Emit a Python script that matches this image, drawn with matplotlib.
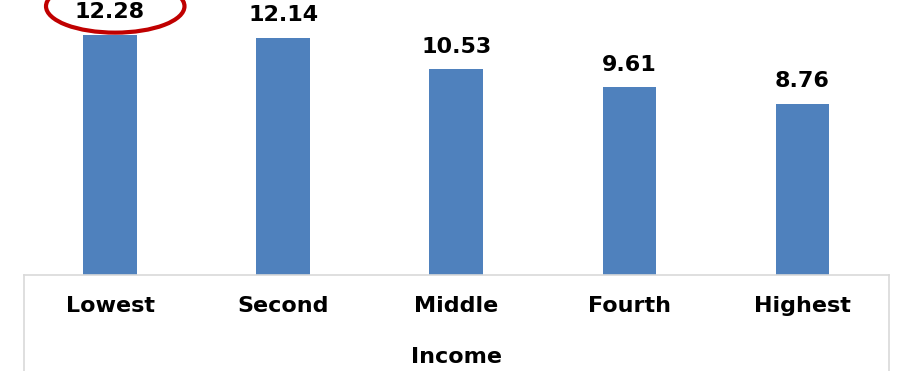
import matplotlib.pyplot as plt
from matplotlib.patches import Ellipse

categories = ["Lowest", "Second", "Middle", "Fourth", "Highest"]
values = [12.28, 12.14, 10.53, 9.61, 8.76]
x_title = "Income"

fig = plt.figure(figsize=(8.97, 3.71), dpi=100)
ax = fig.add_axes([23.5 / 897, 96 / 371, (889 - 23.5) / 897, 275 / 371])

x = range(len(categories))
ax.bar(x, values, width=0.31, color="#4F81BD", zorder=2)

for i, v in zip(x, values):
    ax.annotate(f"{v:.2f}", (i, v), xytext=(0, 12), textcoords="offset points",
                ha="center", va="baseline", fontsize=16, fontweight="bold",
                color="black")

ax.set_xlim(-0.5, len(categories) - 0.5)
ax.set_ylim(0, 14.07)
ax.set_yticks([])
ax.set_xticks(list(x))
ax.set_xticklabels(categories, fontsize=16, fontweight="bold")
ax.tick_params(axis="x", length=0, pad=15)

for s in ["top", "left", "right"]:
    ax.spines[s].set_visible(False)
ax.spines["bottom"].set_color("#D9D9D9")
ax.spines["bottom"].set_linewidth(1.2)

# side borders of the category table under the axis
for xv in (-0.5, len(categories) - 0.5):
    ax.plot([xv, xv], [0, -5.0], color="#D9D9D9", lw=1.2, clip_on=False)

fig.text(456 / 897, 1 - 357 / 371, x_title, ha="center", va="center",
         fontsize=16, fontweight="bold")

# highlight on the first value
ell = Ellipse((0.03, 13.75), 0.8, 2.7, fill=False, edgecolor="#C00000",
              lw=3, clip_on=False, zorder=3)
ax.add_patch(ell)

fig.savefig("out.png", dpi=100)
